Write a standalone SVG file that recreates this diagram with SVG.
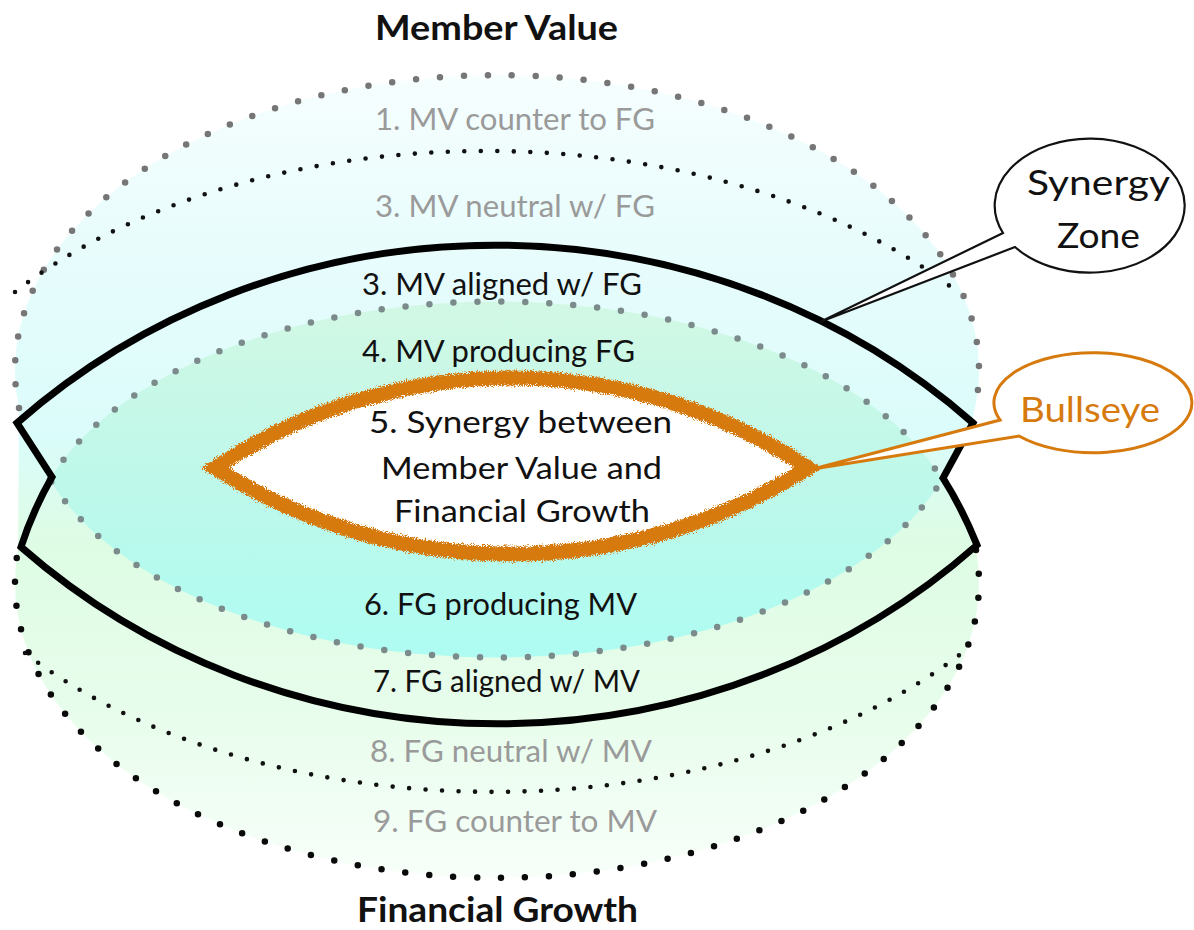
<svg xmlns="http://www.w3.org/2000/svg" width="1194" height="930" viewBox="0 0 1194 930">
  <defs>
    <linearGradient id="outerFill" gradientUnits="userSpaceOnUse" x1="0" y1="77" x2="0" y2="880">
      <stop offset="0" stop-color="#f6fefe"/>
      <stop offset="0.25" stop-color="#e6fcfc"/>
      <stop offset="0.45" stop-color="#dafcfa"/>
      <stop offset="0.58" stop-color="#defce4"/>
      <stop offset="0.8" stop-color="#e8fdec"/>
      <stop offset="1" stop-color="#f8fffa"/>
    </linearGradient>
    <linearGradient id="innerFill" gradientUnits="userSpaceOnUse" x1="0" y1="302" x2="0" y2="657">
      <stop offset="0" stop-color="#d2f8e4"/>
      <stop offset="0.5" stop-color="#bef8ea"/>
      <stop offset="1" stop-color="#aefcf2"/>
    </linearGradient>
    <filter id="rough" x="-10%" y="-20%" width="120%" height="140%">
      <feTurbulence type="fractalNoise" baseFrequency="1.1" numOctaves="2" seed="3" result="n"/>
      <feDisplacementMap in="SourceGraphic" in2="n" scale="8" xChannelSelector="R" yChannelSelector="G"/>
    </filter>
    <style>
      .dotBig { fill: none; stroke-width: 6.5; stroke-linecap: round; stroke-dasharray: 0 24; }
      .dotSmall { fill: none; stroke: #111; stroke-width: 4.6; stroke-linecap: round; stroke-dasharray: 0 16.5; }
      .lbl { font-family: "Lato", "Open Sans", sans-serif; font-size: 30px; fill: #111; }
      .faint { fill: #9a9a9a; }
      .title { font-family: "Lato", "Open Sans", sans-serif; font-size: 35px; font-weight: bold; fill: #111; }
    </style>
  </defs>

  <!-- background fills -->
  <g id="fills">
    <path d="M19,408 A482,295 0 1 1 975,408 A482,295 0 0 1 963,447 L943,478 L976,550 A482,295 0 1 1 18,550 Z" fill="url(#outerFill)"/>
    <path d="M50,479.5 A470,260 0 0 1 942,479.5 A470,260 0 0 1 50,479.5 Z" fill="url(#innerFill)"/>
  </g>

  <g id="connectors">
    <!-- outer dotted boundaries -->
    <path class="dotBig" stroke="#767676" d="M19,408 A482,295 0 1 1 975,408"/>
    <path class="dotBig" stroke="#0a0a0a" d="M976,550 A482,295 0 1 1 18,550"/>
    <!-- neutral boundaries -->
    <path class="dotSmall" d="M15,292 A600,370 0 0 1 955,290"/>
    <path class="dotSmall" d="M25,653 A600,370 0 0 0 962,653"/>
    <!-- inner dotted lens -->
    <path class="dotBig" stroke="#7b8a8a" d="M50,479.5 A470,260 0 0 1 942,479.5 A470,260 0 0 1 50,479.5 Z"/>
    <!-- thick synergy zone boundary -->
    <path d="M17,423 A700,660 0 0 1 973,423 L943,478 Q962,508 977,545 A700,660 0 0 1 21,547 Q33,510 52,477 Z" fill="none" stroke="#000" stroke-width="7" stroke-linejoin="miter" stroke-miterlimit="10"/>
  </g>

  <!-- bullseye lens -->
  <g id="bullseye">
    <path d="M215,468 A533,533 0 0 1 808,468 A554,554 0 0 1 215,468 Z" fill="#fff"/>
    <path d="M215,468 A533,533 0 0 1 808,468 A554,554 0 0 1 215,468 Z" fill="none" stroke="#d67a0e" stroke-width="15" stroke-linejoin="miter" filter="url(#rough)"/>
  </g>

  <!-- titles -->
  <g id="title-mv"><text class="title" x="375" y="40" textLength="243" lengthAdjust="spacingAndGlyphs">Member Value</text></g>
  <g id="title-fg"><text class="title" x="357" y="922" textLength="281" lengthAdjust="spacingAndGlyphs">Financial Growth</text></g>

  <!-- zone labels -->
  <g id="zone1"><text class="lbl faint" x="375" y="130" textLength="280" lengthAdjust="spacingAndGlyphs">1. MV counter to FG</text></g>
  <g id="zone2"><text class="lbl faint" x="375" y="217" textLength="280" lengthAdjust="spacingAndGlyphs">3. MV neutral w/ FG</text></g>
  <g id="zone3"><text class="lbl" x="362" y="295" textLength="280" lengthAdjust="spacingAndGlyphs">3. MV aligned w/ FG</text></g>
  <g id="zone4"><text class="lbl" x="362" y="362" textLength="273" lengthAdjust="spacingAndGlyphs">4. MV producing FG</text></g>
  <g id="zone5">
    <text class="lbl" x="369" y="433" textLength="303" lengthAdjust="spacingAndGlyphs">5. Synergy between</text>
    <text class="lbl" x="381" y="479" textLength="281" lengthAdjust="spacingAndGlyphs">Member Value and</text>
    <text class="lbl" x="394" y="522" textLength="256" lengthAdjust="spacingAndGlyphs">Financial Growth</text>
  </g>
  <g id="zone6"><text class="lbl" x="364" y="615" textLength="273" lengthAdjust="spacingAndGlyphs">6. FG producing MV</text></g>
  <g id="zone7"><text class="lbl" x="373" y="692" textLength="267" lengthAdjust="spacingAndGlyphs">7. FG aligned w/ MV</text></g>
  <g id="zone8"><text class="lbl faint" x="370" y="762" textLength="282" lengthAdjust="spacingAndGlyphs">8. FG neutral w/ MV</text></g>
  <g id="zone9"><text class="lbl faint" x="373" y="832" textLength="284" lengthAdjust="spacingAndGlyphs">9. FG counter to MV</text></g>

  <!-- callouts -->
  <g id="callout-synergy">
    <path d="M1003,233 A95,67 0 1 1 1015,247 L820,322 Z" fill="#fff" stroke="#111" stroke-width="2.2" stroke-linejoin="miter"/>
    <text class="lbl" x="1027" y="195" style="font-size:34px" textLength="143" lengthAdjust="spacingAndGlyphs">Synergy</text>
    <text class="lbl" x="1057" y="248" style="font-size:34px" textLength="83" lengthAdjust="spacingAndGlyphs">Zone</text>
  </g>
  <g id="callout-bullseye">
    <path d="M1000,420 A99,50 0 1 1 1019,436 L813,469 Z" fill="#fff" stroke="#d67a0e" stroke-width="3" stroke-linejoin="miter"/>
    <text class="lbl" x="1020" y="422" style="font-size:34px;fill:#d67a0e" textLength="140" lengthAdjust="spacingAndGlyphs">Bullseye</text>
  </g>
</svg>
